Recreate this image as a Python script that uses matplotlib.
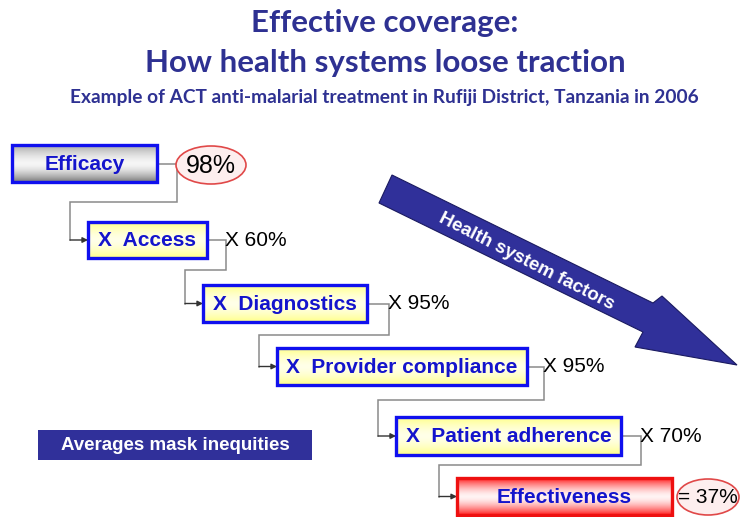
import numpy as np
import matplotlib
matplotlib.use("Agg")
import matplotlib.pyplot as plt
from matplotlib.patches import Rectangle, Ellipse, Polygon

# --- content ---
steps = ["Efficacy", "X  Access", "X  Diagnostics", "X  Provider compliance",
         "X  Patient adherence", "Effectiveness"]
factors = ["98%", "X 60%", "X 95%", "X 95%", "X 70%", "= 37%"]
title1 = "Effective coverage:"
title2 = "How health systems loose traction"
subtitle = "Example of ACT anti-malarial treatment in Rufiji District, Tanzania in 2006"
arrow_text = "Health system factors"
note_text = "Averages mask inequities"

# --- layout (pixel coordinates, y downward) ---
box_x0 = [12, 88, 203, 277, 396, 457]
box_x1 = [157, 207, 367, 527, 621, 672]
box_y0 = [145, 222, 285, 348, 417, 478]
box_y1 = [182, 258, 322, 385, 455, 515]
lab_x = [176, 225, 388, 543, 640, 678]
turn_y = [202, 270, 335, 400, 465]

TXT_BLUE = "#1414cc"
NAVY = "#30309a"
TITLE_C = "#2e3192"

fig = plt.figure(figsize=(7.43, 5.17), dpi=100)
ax = fig.add_axes([0, 0, 1, 1])


def grad_box(x0, y0, x1, y1, edge, mid, ec, lw=2.4, bottom=None):
    t = np.linspace(0, 1, 80)
    w = 1 - np.abs(2 * t - 1) ** 1.6
    edge = np.array(matplotlib.colors.to_rgb(edge))
    mid = np.array(matplotlib.colors.to_rgb(mid))
    bot = np.array(matplotlib.colors.to_rgb(bottom)) if bottom else edge
    e = np.where(t[:, None] < 0.5, edge[None, :], bot[None, :])
    img = e * (1 - w[:, None]) + mid[None, :] * w[:, None]
    ax.imshow(img[:, None, :], extent=(x0, x1, y1, y0), aspect="auto",
              interpolation="bilinear", zorder=2)
    ax.add_patch(Rectangle((x0, y0), x1 - x0, y1 - y0, fill=False,
                           ec=ec, lw=lw, zorder=3))


n = len(steps)
for i in range(n):
    x0, x1, y0, y1 = box_x0[i], box_x1[i], box_y0[i], box_y1[i]
    ym = (y0 + y1) / 2
    if i == 0:
        grad_box(x0, y0, x1, y1, "#a8a8a8", "#f6f6f6", "#1010ee", bottom="#7a7a7a")
    elif i == n - 1:
        grad_box(x0, y0, x1, y1, "#ff2020", "#fff4f4", "#ee1010")
    else:
        grad_box(x0, y0, x1, y1, "#ffff88", "#ffffe8", "#1010ee")
    ax.text((x0 + x1) / 2, ym + 1, steps[i], ha="center", va="center",
            fontsize=15, fontweight="bold", color=TXT_BLUE,
            family="Liberation Sans", zorder=4)

    # factor label
    if i == 0:
        ax.add_patch(Ellipse((211, 165), 70, 38, fc="#fdeeee", ec="#e04848",
                             lw=1.2, zorder=3))
        ax.text(211, 166, factors[i], ha="center", va="center", fontsize=18,
                family="Liberation Sans", zorder=4)
    elif i == n - 1:
        ax.add_patch(Ellipse((708, 497), 62, 36, fc="#fdeeee", ec="#e04848",
                             lw=1.2, zorder=3))
        ax.text(lab_x[i], ym + 1, factors[i], ha="left", va="center",
                fontsize=15, family="Liberation Sans", zorder=4)
    else:
        ax.text(lab_x[i], ym, factors[i], ha="left", va="center", fontsize=15,
                family="Liberation Sans", zorder=4)

    # connector to next step
    if i < n - 1:
        nx0 = box_x0[i + 1]
        nym = (box_y0[i + 1] + box_y1[i + 1]) / 2
        dx = nx0 - 18
        vx = lab_x[i] + 1
        ax.plot([x1, vx, vx, dx, dx], [ym, ym, turn_y[i], turn_y[i], nym],
                color="#8a8a8a", lw=1.1, zorder=1, solid_joinstyle="miter")
        ax.annotate("", xy=(nx0, nym), xytext=(dx, nym),
                    arrowprops=dict(arrowstyle="-|>", color="#333333", lw=1.0,
                                    mutation_scale=8, shrinkA=0, shrinkB=0),
                    zorder=1)

# big arrow
arrow_pts = [(392, 175), (653, 303), (662, 296), (737, 365), (635, 347),
             (643, 332), (379, 203)]
ax.add_patch(Polygon(arrow_pts, closed=True, fc=NAVY, ec="#1a1a60", lw=0.8, zorder=2))
ax.text(527, 262, arrow_text, rotation=-27, rotation_mode="anchor",
        ha="center", va="center", fontsize=13.5, fontweight="bold",
        color="white", family="Liberation Sans", zorder=4)

# note box
ax.add_patch(Rectangle((38, 430), 274, 30, fc=NAVY, ec="none", zorder=2))
ax.text(175, 446, note_text, ha="center", va="center", fontsize=13.5,
        fontweight="bold", color="white", family="Liberation Sans", zorder=4)

# titles
ax.text(385, 23, title1, ha="center", va="center", fontsize=22.5,
        fontweight="bold", color=TITLE_C, family="Lato")
ax.text(385, 63, title2, ha="center", va="center", fontsize=22.5,
        fontweight="bold", color=TITLE_C, family="Lato")
ax.text(384, 97, subtitle, ha="center", va="center", fontsize=13.8,
        fontweight="bold", color=TITLE_C, family="Lato")

ax.set_xlim(0, 743)
ax.set_ylim(517, 0)
ax.axis("off")
fig.savefig("out.png", dpi=100)
